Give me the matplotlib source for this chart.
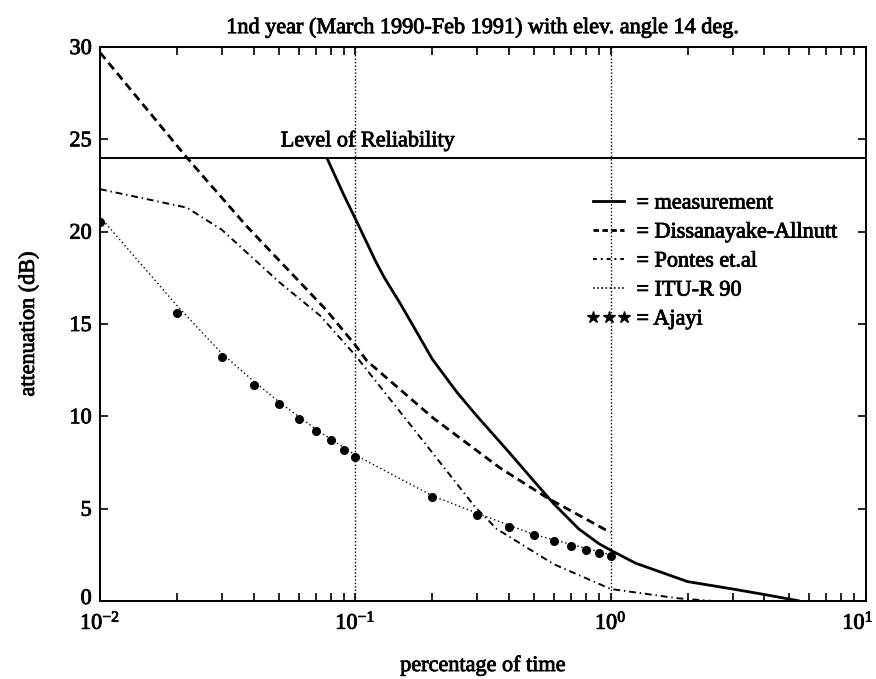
import matplotlib
matplotlib.use("Agg")
import matplotlib.pyplot as plt
import matplotlib.patheffects as pe
from matplotlib.lines import Line2D
from matplotlib.transforms import ScaledTranslation

plt.rcParams["font.family"] = ["Liberation Serif", "DejaVu Serif"]
plt.rcParams["mathtext.fontset"] = "stix"

# Measured rain attenuation exceedance curve
meas_p = [0.0773, 0.09, 0.1, 0.11, 0.12, 0.13, 0.15, 0.17, 0.2, 0.25, 0.3,
          0.4, 0.5, 0.6, 0.75, 0.9, 1.0, 1.25, 2.0, 3.0, 4.0, 5.5]
meas_db = [24.0, 22.0, 20.7, 19.5, 18.4, 17.5, 16.1, 14.8, 13.1, 11.3, 10.0,
           8.05, 6.5, 5.25, 3.9, 3.1, 2.75, 2.05, 1.05, 0.65, 0.35, 0.0]

# Dissanayake-Allnutt prediction
da_p = [0.01, 0.0219, 0.0375, 0.077, 0.1, 0.111, 0.202, 0.369, 0.562, 1.0]
da_db = [29.7, 24.0, 20.3, 15.75, 13.85, 13.0, 9.9, 7.2, 5.6, 3.7]

# Pontes et al. prediction
pon_p = [0.01, 0.0219, 0.03, 0.05, 0.0728, 0.1, 0.174, 0.294, 0.358, 0.597,
         1.0, 1.82, 2.5]
pon_db = [22.3, 21.3, 20.1, 17.3, 15.45, 13.3, 9.1, 5.1, 3.9, 2.0,
          0.65, 0.15, 0.0]

# ITU-R 90 prediction
itu_p = [0.01, 0.02, 0.03, 0.04, 0.05, 0.07, 0.1, 0.2, 0.3, 0.5, 1.0]
itu_db = [20.8, 16.0, 13.4, 11.9, 10.8, 9.3, 7.9, 5.7, 4.75, 3.6, 2.5]

# Ajayi model points
ajayi_p = [0.01, 0.02, 0.03, 0.04, 0.05, 0.06, 0.07, 0.08, 0.09, 0.1,
           0.2, 0.3, 0.4, 0.5, 0.6, 0.7, 0.8, 0.9, 1.0]
ajayi_db = [20.5, 15.6, 13.2, 11.7, 10.65, 9.85, 9.2, 8.7, 8.2, 7.8,
            5.65, 4.65, 4.0, 3.55, 3.23, 2.98, 2.76, 2.6, 2.45]

reliability_db = 24.0
ref_lines_p = [0.1, 1.0]

x_ticks = [0.01, 0.1, 1, 10]
x_tick_labels = [r"$\mathregular{10^{-2}}$", r"$\mathregular{10^{-1}}$",
                 r"$\mathregular{10^{0}}$", r"$\mathregular{10^{1}}$"]
y_ticks = [0, 5, 10, 15, 20, 25, 30]

labels = ["= measurement", "= Dissanayake-Allnutt", "= Pontes et.al",
          "= ITU-R 90", "= Ajayi"]

FS = 16
ink = [pe.withStroke(linewidth=0.6, foreground="black")]

fig = plt.figure(figsize=(8.76, 6.79), dpi=100)
ax = fig.add_axes([0.1142, 0.1149, 0.8744, 0.8159])

ax.set_xscale("log")
ax.set_xlim(0.01, 10)
ax.set_ylim(0, 30)

for p in ref_lines_p:
    ax.axvline(p, color="black", lw=1.0, ls=(0, (1, 1.5)))
ax.axhline(reliability_db, color="black", lw=1.4)
ax.text(0.112, reliability_db + 0.35, "Level of Reliability", ha="center",
        va="bottom", fontsize=FS, path_effects=ink)

ax.plot(meas_p, meas_db, color="black", lw=2.0, solid_capstyle="butt",
        solid_joinstyle="round")
ax.plot(da_p, da_db, color="black", lw=2.0, ls=(0, (3, 1.8)))
ax.plot(pon_p, pon_db, color="black", lw=1.4, ls=(0, (3.5, 2, 0.7, 2)))
ax.plot(itu_p, itu_db, color="black", lw=1.0, ls=(0, (1, 2)))
ax.plot(ajayi_p, ajayi_db, ls="none", marker="o", ms=5.5, color="black")

handles = [
    Line2D([], [], color="black", lw=2.0),
    Line2D([], [], color="black", lw=2.0, ls=(0, (2, 1.2))),
    Line2D([], [], color="black", lw=1.4, ls=(0, (2, 2, 1, 2))),
    Line2D([], [], color="black", lw=1.2, ls=(0, (1, 1.5))),
    Line2D([], [], ls="none", marker="*", ms=9, color="black"),
]
leg = ax.legend(handles, labels, loc="upper left",
                bbox_to_anchor=(0.635, 0.7365), frameon=False, fontsize=FS,
                handlelength=2.0, handletextpad=0.25, labelspacing=0.38,
                borderpad=0, numpoints=3, borderaxespad=0)
for t in leg.get_texts():
    t.set_path_effects(ink)

ax.set_xticks(x_ticks)
ax.set_xticklabels(x_tick_labels)
ax.set_yticks(y_ticks)
ax.tick_params(which="both", direction="in", top=True, right=True,
               labelsize=FS, width=1.2)
ax.tick_params(which="major", length=6)
ax.tick_params(axis="x", which="major", pad=7)
ax.tick_params(axis="y", which="major", pad=6)
ax.tick_params(which="minor", length=6)
for s in ax.spines.values():
    s.set_linewidth(1.4)

for lbl in ax.get_xticklabels() + ax.get_yticklabels():
    lbl.set_path_effects(ink)
# keep the last decade label inside the figure
last = ax.get_xticklabels()[-1]
last.set_transform(last.get_transform()
                   + ScaledTranslation(-8 / 100, 0, fig.dpi_scale_trans))
# lift the zero label a little so it clears the first decade label
zero = ax.get_yticklabels()[0]
zero.set_transform(zero.get_transform()
                   + ScaledTranslation(0, 4 / 100, fig.dpi_scale_trans))

ax.set_title("1nd year (March 1990-Feb 1991) with elev. angle 14 deg.",
             fontsize=FS, pad=10, path_effects=ink)
ax.set_xlabel("percentage of time", fontsize=FS, labelpad=16, path_effects=ink)
ax.set_ylabel("attenuation (dB)", fontsize=FS, labelpad=22, path_effects=ink)

fig.savefig("out.png", dpi=100)
